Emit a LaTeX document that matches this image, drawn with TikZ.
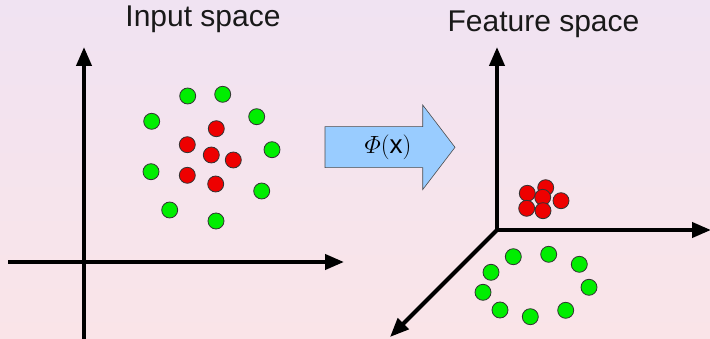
\documentclass[tikz,border=0pt]{standalone}
\usepackage{amsmath}
\usepackage{fontspec}
\setmainfont{Liberation Sans}
\setsansfont{Liberation Sans}
\usetikzlibrary{arrows.meta,shapes.arrows}
\definecolor{bgtop}{RGB}{240,227,242}
\definecolor{bgbot}{RGB}{250,228,232}
\definecolor{dotgreen}{RGB}{0,238,0}
\definecolor{dotred}{RGB}{238,0,0}
\definecolor{arrowblue}{RGB}{153,204,255}
\tikzset{
  axis/.style={line width=4pt,-{Triangle[length=19pt,width=15pt]}},
  gdot/.style={circle,draw=black!80,line width=0.8pt,fill=dotgreen,minimum size=16pt,inner sep=0pt},
  rdot/.style={circle,draw=black!80,line width=0.8pt,fill=dotred,minimum size=16pt,inner sep=0pt},
  title/.style={font=\fontsize{30}{36}\selectfont,text=black!90,inner sep=0pt}
}
\begin{document}
\begin{tikzpicture}[x=1pt,y=-1pt]
\shade[top color=bgtop,bottom color=bgbot] (0,0) rectangle (710,339);
\useasboundingbox (0,0) rectangle (710,339);
% titles
\node[title] (tin) at (203,19.5) {Input space};
\node[title] (tfe) at (543.5,24) {Feature space};
% left axes
\coordinate (lxs) at (8,262);
\coordinate (lxe) at (344,262);
\coordinate (lys) at (84,339);
\coordinate (lye) at (84,47);
\draw[axis] (lxs) -- (lxe);
\draw[axis] (lys) -- (lye);
% right axes
\coordinate (ro) at (497,230);
\coordinate (rx) at (711,230);
\coordinate (ry) at (497,47);
\coordinate (rz) at (390,337);
\draw[axis] (ro) -- (rx);
\draw[axis] (ro) -- (ry);
\draw[axis] (ro) -- (rz);
% mapping arrow
\draw[draw=black!70,line width=0.6pt,fill=arrowblue,line join=miter]
  (325,126.7) -- (422.7,126.7) -- (422.7,105) -- (455,147.3) -- (422.7,189.6) -- (422.7,167.7) -- (325,167.7) -- cycle;
\node[inner sep=0pt] (phi) at (388,147.5) {\fontsize{26}{30}\selectfont$\varPhi\mathopen{}\left(\text{x}\right)$};
% left dots
\foreach \x/\y [count=\i] in {187.7/96,222.7/94.3,151.7/121.3,256.7/116.7,272/149.7,151/171.7,261.7/191,169.7/210,216/221}
  \node[gdot] (lg\i) at (\x,\y) {};
\foreach \x/\y [count=\i] in {216.3/128.7,187.3/144.7,211.3/155,233.3/160,187.3/175.3,215.7/184}
  \node[rdot] (lr\i) at (\x,\y) {};
% right dots
\foreach \x/\y [count=\i] in {545.7/187.7,527.3/193.3,561/200.7,542.7/197.3,526.7/208.3,543/210.7}
  \node[rdot] (rr\i) at (\x,\y) {};
\foreach \x/\y [count=\i] in {513.3/256.7,548.7/254.3,579.3/264.3,491/272.3,589/287.3,483/292.3,500/310,530.3/316.7,565.7/310.3}
  \node[gdot] (rg\i) at (\x,\y) {};
\end{tikzpicture}
\end{document}
